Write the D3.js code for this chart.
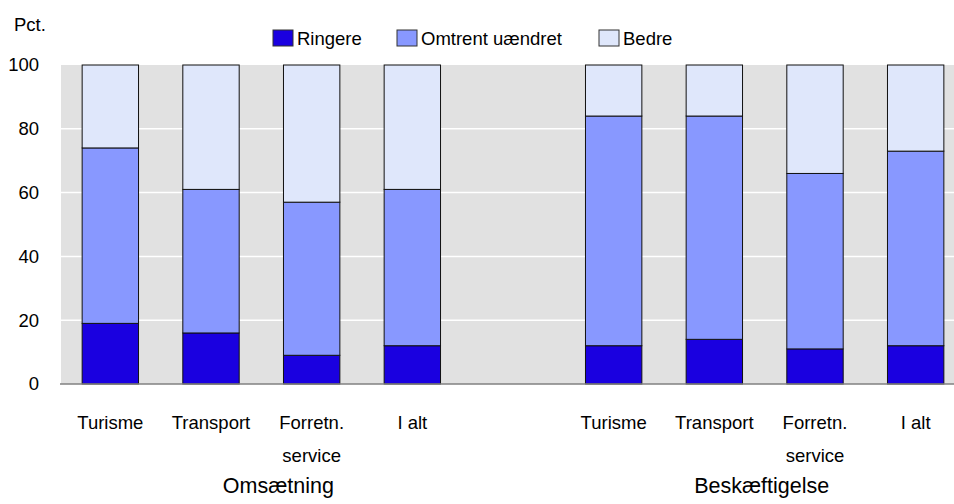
<!DOCTYPE html>
<html>
<head>
<meta charset="utf-8">
<script src="https://cdn.jsdelivr.net/npm/d3@7"></script>
<style>
  body { margin: 0; background: #fff; }
  svg text { font-family: "Liberation Sans", Arial, sans-serif; fill: #000; }
</style>
</head>
<body>
<svg id="canvas"></svg>
<script>
let width = 954
let height = 504

// data
let groups = ["Omsætning", "Beskæftigelse"]
let categories = ["Turisme", "Transport", "Forretn.\nservice", "I alt"]
let seriesNames = ["Ringere", "Omtrent uændret", "Bedre"]
let ringere = [19, 16, 9, 12, 12, 14, 11, 12]
let omtrent = [55, 45, 48, 49, 72, 70, 55, 61]
let bedre = [26, 39, 43, 39, 16, 16, 34, 27]
let yTicks = [0, 20, 40, 60, 80, 100]

let colors = ["#1a00e0", "#8898ff", "#dfe7fb"]

let plotLeft = 61, plotRight = 954, plotTop = 65, plotBottom = 384

let svg = d3.select('#canvas').attr('width', width).attr('height', height)

// one slot per bar, plus an empty slot between the two groups
let rows = []
groups.forEach((g, gi) => {
    categories.forEach((c, ci) => {
        let i = gi * categories.length + ci
        rows.push({key: g + "|" + c, group: g, cat: c, Ringere: ringere[i], "Omtrent uændret": omtrent[i], Bedre: bedre[i]})
    })
})
let slots = []
rows.forEach((r, i) => {
    if (i == categories.length) slots.push("gap")
    slots.push(r.key)
})

let xScale = d3.scaleBand()
    .domain(slots)
    .range([60, 966])
    .paddingInner(0.44)
    .paddingOuter(0.22)

let yScale = d3.scaleLinear()
    .domain([0, 100])
    .range([plotBottom, plotTop])

// background + gridlines
svg.append('rect')
    .attr('x', plotLeft).attr('y', plotTop)
    .attr('width', plotRight - plotLeft).attr('height', plotBottom - plotTop)
    .attr('fill', '#e1e1e1')

svg.append('g').selectAll('line')
    .data(yTicks.filter(t => t > 0 && t < 100))
    .join('line')
    .attr('x1', plotLeft).attr('x2', plotRight)
    .attr('y1', d => yScale(d)).attr('y2', d => yScale(d))
    .attr('stroke', '#fff').attr('stroke-width', 1.5)

// y axis labels
let yAxis = d3.axisLeft(yScale).tickValues(yTicks).tickSize(0).tickPadding(0)
let yG = svg.append('g').attr('transform', 'translate(39,0)').call(yAxis)
yG.select('.domain').remove()
yG.selectAll('text').attr('font-size', 18.5).attr('font-family', '"Liberation Sans", Arial, sans-serif').attr('fill', '#000')

svg.append('text').attr('x', 14).attr('y', 31).attr('font-size', 18.5).text('Pct.')

// stacked bars
let stack = d3.stack().keys(seriesNames)(rows)
svg.append('g').selectAll('g')
    .data(stack)
    .join('g')
    .attr('fill', (d, i) => colors[i])
    .selectAll('rect')
    .data(d => d)
    .join('rect')
    .attr('x', d => xScale(d.data.key))
    .attr('width', xScale.bandwidth())
    .attr('y', d => yScale(d[1]))
    .attr('height', d => yScale(d[0]) - yScale(d[1]))
    .attr('stroke', '#111')
    .attr('stroke-width', 1)

// baseline
svg.append('line')
    .attr('x1', 60).attr('x2', plotRight)
    .attr('y1', yScale(0)).attr('y2', yScale(0))
    .attr('stroke', '#808080').attr('stroke-width', 1.5)

// category labels
let catG = svg.append('g')
rows.forEach(r => {
    let cx = xScale(r.key) + xScale.bandwidth() / 2
    let t = catG.append('text')
        .attr('x', cx)
        .attr('y', 429)
        .attr('text-anchor', 'middle')
        .attr('font-size', 18.5)
    r.cat.split("\n").forEach((line, li) => {
        t.append('tspan').attr('x', cx).attr('dy', li == 0 ? 0 : 33).text(line)
    })
})

// group labels (the first one sits a bit right of its group's centre in the original)
let groupDx = [17, -3]
groups.forEach((g, gi) => {
    let keys = rows.filter(r => r.group == g).map(r => r.key)
    let x0 = xScale(keys[0]), x1 = xScale(keys[keys.length - 1]) + xScale.bandwidth()
    svg.append('text')
        .attr('x', (x0 + x1) / 2 + groupDx[gi])
        .attr('y', 493)
        .attr('text-anchor', 'middle')
        .attr('font-size', 21.5)
        .text(g)
})

// legend
let legendX = [273, 397, 599]
let legend = svg.append('g')
seriesNames.forEach((s, i) => {
    legend.append('rect')
        .attr('x', legendX[i]).attr('y', 30)
        .attr('width', 20).attr('height', 16)
        .attr('fill', colors[i]).attr('stroke', '#333').attr('stroke-width', 1)
    legend.append('text')
        .attr('x', legendX[i] + 24).attr('y', 45)
        .attr('font-size', 18.5)
        .text(s)
})
</script>
</body>
</html>
